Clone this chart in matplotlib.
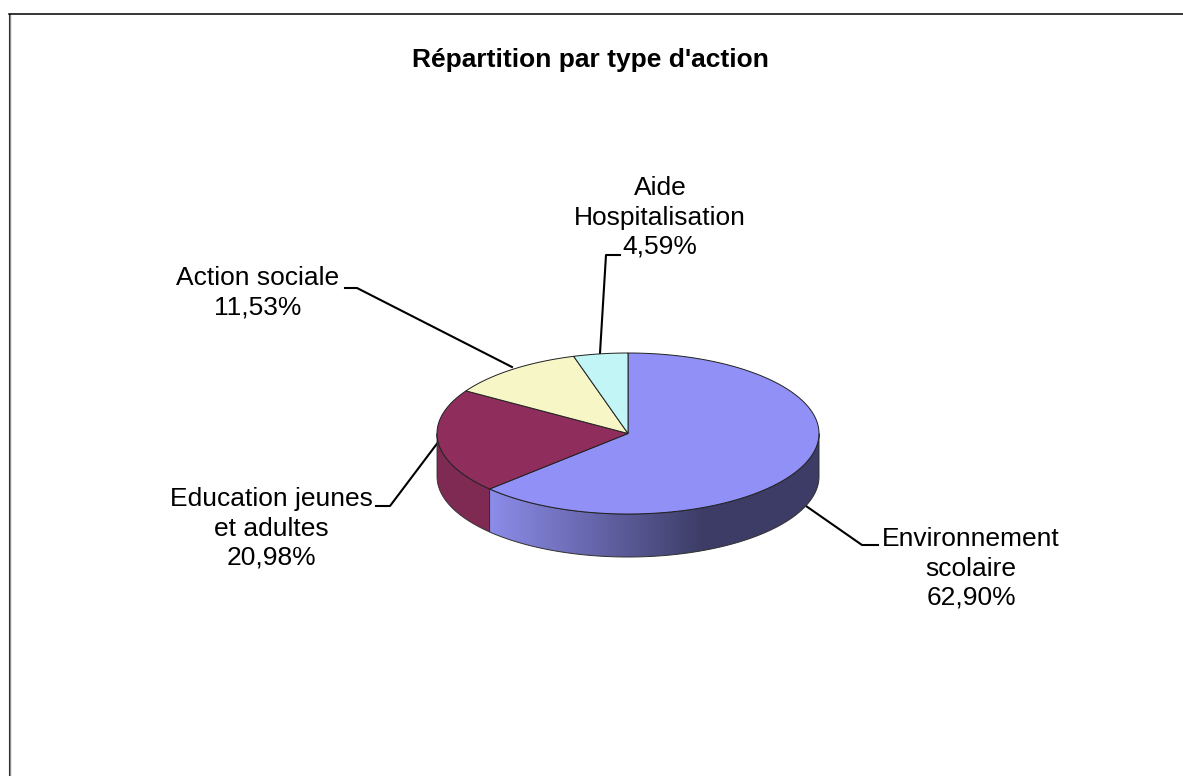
import numpy as np
import matplotlib
matplotlib.use('Agg')
import matplotlib.pyplot as plt
from matplotlib.colors import LinearSegmentedColormap
from matplotlib.patches import Polygon

labels = ['Environnement\nscolaire', 'Education jeunes\net adultes', 'Action sociale', 'Aide\nHospitalisation']
values = [62.90, 20.98, 11.53, 4.59]
top_colors = ['#9090f6', '#8f2e5c', '#f6f6c6', '#c2f6f6']

# centre, rayons et epaisseur du camembert, en pixels
cx, cy, rx, ry, depth = 628, 433.5, 191, 80.5, 43

plt.rcParams['font.family'] = ['Liberation Sans', 'DejaVu Sans']

fig = plt.figure(figsize=(11.83, 7.76), dpi=100)
ax = fig.add_axes([0, 0, 1, 1])
ax.set_xlim(0, 1183)
ax.set_ylim(776, 0)
ax.axis('off')


def ellipse_pts(a0, a1):
    # angles en degres, sens horaire depuis midi
    t = np.radians(np.linspace(a0, a1, 200))
    return np.column_stack([cx + rx * np.sin(t), cy - ry * np.cos(t)])


# cadre
ax.plot([10.5, 10.5], [14, 776], color='#909090', lw=1)
ax.plot([9.5, 9.5], [13.5, 776], color='#303030', lw=0.8)
ax.plot([9, 1183], [13.5, 13.5], color='black', lw=1.1)

edges = np.cumsum([0] + values) * 3.6

# face laterale de Education jeunes (a gauche)
front = ellipse_pts(edges[1], 270)
back = front[::-1] + [0, depth]
ax.add_patch(Polygon(np.vstack([front, back]), fc='#7e2a52', ec='#303030', lw=0.6, zorder=2))

# face laterale de Environnement, avec degrade
front = ellipse_pts(90, edges[1])
back = front[::-1] + [0, depth]
x_left = front[:, 0].min()
grad = np.linspace(0, 1, 256).reshape(1, -1)
cmap = LinearSegmentedColormap.from_list('side', [(0, '#8c8cea'), (0.65, '#3c3c66'), (1, '#3c3c66')])
img = ax.imshow(grad, extent=(x_left, cx + rx, cy + ry + depth, cy), cmap=cmap,
                aspect='auto', zorder=3)
side = Polygon(np.vstack([front, back]), fc='none', ec='#303030', lw=0.7, zorder=4)
ax.add_patch(side)
img.set_clip_path(side)
ax.set_xlim(0, 1183)
ax.set_ylim(776, 0)

# faces du dessus
for i in range(len(values)):
    pts = np.vstack([[cx, cy], ellipse_pts(edges[i], edges[i + 1])])
    ax.add_patch(Polygon(pts, fc=top_colors[i], ec='#202020', lw=0.7, zorder=5))

# traits de rappel
leaders = [
    [(806, 506), (862, 545), (878, 545)],
    [(439, 441), (390, 506), (376, 506)],
    [(512, 367), (357, 288), (345, 288)],
    [(600, 353), (606, 255), (620, 255)],
]
for line in leaders:
    xs, ys = zip(*line)
    ax.plot(xs, ys, color='black', lw=1.5, zorder=1)

# textes
ax.text(590, 60.5, "Répartition par type d'action", ha='center', va='center', fontsize=19, fontweight='bold')
positions = [(971, 568.5), (271, 528.5), (258, 293), (660, 217.5)]
for lab, val, (x, y) in zip(labels, values, positions):
    txt = lab + '\n' + ('%.2f' % val).replace('.', ',') + '%'
    ax.text(x, y, txt, ha='center', va='center', fontsize=19, linespacing=1.28, zorder=6)

fig.savefig('out.png', dpi=100)
